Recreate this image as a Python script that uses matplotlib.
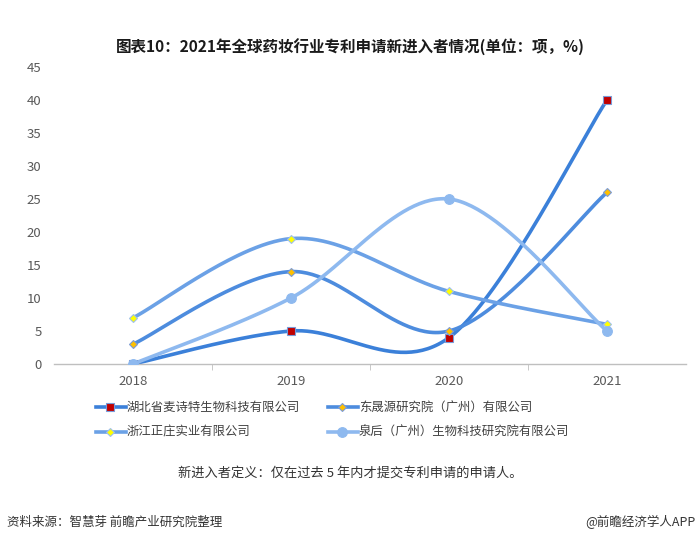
import numpy as np
import matplotlib
matplotlib.use("Agg")
import matplotlib.pyplot as plt
from matplotlib.lines import Line2D

plt.rcParams['font.family'] = ['Noto Sans CJK SC', 'DejaVu Sans']

years = ["2018", "2019", "2020", "2021"]
names = ["湖北省麦诗特生物科技有限公司", "东晟源研究院（广州）有限公司",
         "浙江正庄实业有限公司", "泉后（广州）生物科技研究院有限公司"]
s1 = [0, 5, 4, 40]
s2 = [3, 14, 5, 26]
s3 = [7, 19, 11, 6]
s4 = [0, 10, 25, 5]
yticks = [0, 5, 10, 15, 20, 25, 30, 35, 40, 45]

series = [s1, s2, s3, s4]
line_colors = ["#3B80D9", "#4D8CDE", "#6BA1E6", "#8EB9EF"]
mk = ["s", "D", "D", "o"]
mfc = ["#C00000", "#FFC000", "#FFFF00", "#8EB9EF"]
mec = ["#7A9BD8", "#7A9BD8", "#9FC0EC", "#8EB9EF"]
ms = [6.0, 4.2, 4.2, 7.0]


def smooth(xs, ys, n=60):
    pts = np.column_stack([xs, ys]).astype(float)
    P = np.vstack([pts[0], pts, pts[-1]])
    outx, outy = [], []
    for i in range(1, len(P) - 2):
        p0, p3 = P[i], P[i + 1]
        c1 = p0 + (P[i + 1] - P[i - 1]) / 6.0
        c2 = p3 - (P[i + 2] - P[i]) / 6.0
        t = np.linspace(0, 1, n)[:, None]
        b = ((1 - t) ** 3) * p0 + 3 * ((1 - t) ** 2) * t * c1 + 3 * (1 - t) * t ** 2 * c2 + t ** 3 * p3
        outx.extend(b[:, 0]); outy.extend(b[:, 1])
    return np.array(outx), np.array(outy)


W, H = 700, 541
fig = plt.figure(figsize=(7, 5.41), dpi=100)
ax = fig.add_axes([54 / W, 1 - 364 / H, (686 - 54) / W, (364 - 67) / H])

x = np.arange(len(years))
for i, s in enumerate(series):
    sx, sy = smooth(x, s)
    ax.plot(sx, sy, color=line_colors[i], lw=2.6, solid_capstyle='round', zorder=2 + i * 0.1)
for i, s in enumerate(series):
    ax.plot(x, s, ls='none', marker=mk[i], mfc=mfc[i], mec=mec[i], mew=0.8, ms=ms[i], zorder=5)

ax.set_xlim(-0.5, 3.5)
ax.set_ylim(0, 45)
ax.set_yticks(yticks)
ax.set_yticklabels([str(v) for v in yticks])
ax.set_xticks(x)
ax.set_xticklabels(years)
ax.set_xticks([0.5, 1.5, 2.5], minor=True)
ax.tick_params(axis='x', which='major', length=0, pad=8, labelsize=9.5, labelcolor="#595959")
ax.tick_params(axis='x', which='minor', length=4, color="#BFBFBF", direction='out')
ax.tick_params(axis='y', length=0, pad=9, labelsize=9.5, labelcolor="#595959")
for sp in ["top", "right", "left"]:
    ax.spines[sp].set_visible(False)
ax.spines["bottom"].set_color("#BFBFBF")
ax.spines["bottom"].set_linewidth(1.0)

fig.text(350 / W, 1 - 47 / H, "图表10：2021年全球药妆行业专利申请新进入者情况(单位：项，%)",
         ha='center', va='center', fontsize=11.2, fontweight='bold', color="#1a1a1a")

# legend
leg_pos = [(96, 407), (328, 407), (96, 432), (328, 432)]
for i, (lx, ly) in enumerate(leg_pos):
    fy = 1 - ly / H
    fig.add_artist(Line2D([lx / W, (lx + 30) / W], [fy, fy], color=line_colors[i], lw=2.6,
                          transform=fig.transFigure))
    fig.add_artist(Line2D([(lx + 14) / W], [fy], ls='none', marker=mk[i], mfc=mfc[i], mec=mec[i],
                          mew=0.8, ms=ms[i], transform=fig.transFigure))
    fig.text((lx + 31) / W, fy, names[i], ha='left', va='center', fontsize=8.9, color="#404040")

fig.text(350 / W, 1 - 473 / H, "新进入者定义：仅在过去 5 年内才提交专利申请的申请人。",
         ha='center', va='center', fontsize=9.5, color="#333333")
fig.text(7 / W, 1 - 522 / H, "资料来源：智慧芽 前瞻产业研究院整理",
         ha='left', va='center', fontsize=9, color="#333333")
fig.text(695 / W, 1 - 522 / H, "@前瞻经济学人APP",
         ha='right', va='center', fontsize=9, color="#333333")

fig.savefig("out.png", dpi=100)
